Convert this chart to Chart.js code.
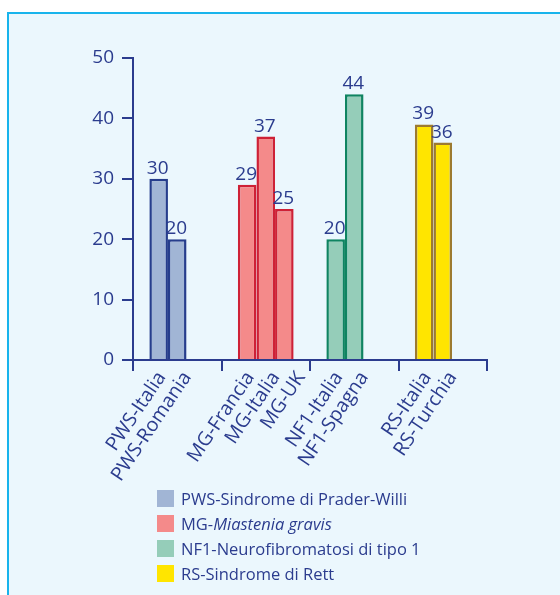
<!DOCTYPE html>
<html><head><meta charset="utf-8">
<script src="https://cdn.jsdelivr.net/npm/chart.js@4"></script>
<style>
html,body{margin:0;padding:0;background:#fff;width:560px;height:595px;overflow:hidden;}
#panel{position:absolute;left:7px;top:12px;width:600px;height:640px;background:#EBF7FD;border-left:2px solid #18B4EC;border-top:2px solid #18B4EC;}
#wrap{position:absolute;left:0;top:0;width:560px;height:595px;}
#legend{position:absolute;left:157px;top:490px;font-family:"Open Sans";font-weight:500;font-size:16.5px;color:#2B3C8E;}
.row{position:absolute;left:0;height:17px;line-height:17px;white-space:nowrap;}
.box{display:inline-block;width:17px;height:17px;vertical-align:top;margin-right:7px;}
</style></head>
<body>
<div id="panel"></div>
<div id="wrap"><canvas id="c" width="560" height="595"></canvas></div>
<div id="legend"></div>
<script>
const groups = ['PWS', 'MG', 'NF1', 'RS'];
const barLabels = [['PWS-Italia', 'PWS-Romania'], ['MG-Francia', 'MG-Italia', 'MG-UK'], ['NF1-Italia', 'NF1-Spagna'], ['RS-Italia', 'RS-Turchia']];
const firstBar = [30, 29, 20, 39];
const secondBar = [20, 37, 44, 36];
const thirdBar = [null, 25, null, null];
const yTicks = [0, 10, 20, 30, 40, 50];
const legendText = ['PWS-Sindrome di Prader-Willi', 'MG-', 'NF1-Neurofibromatosi di tipo 1', 'RS-Sindrome di Rett'];
const legendItalic = ['', 'Miastenia gravis', '', ''];

const fills = ['#A1B5D5', '#F48A8A', '#95CDB9', '#FFE500'];
const edges = ['#263D8C', '#CE2136', '#0F8461', '#9C7A30'];
const navy = '#2B3C8E';
const FONT = '500 19px "Open Sans"';
const XFONT = '500 19.5px "Open Sans"';

const legend = document.getElementById('legend');
legendText.forEach((t, i) => {
  const row = document.createElement('div');
  row.className = 'row';
  row.style.top = (25 * i) + 'px';
  const box = document.createElement('span');
  box.className = 'box';
  box.style.background = fills[i];
  row.appendChild(box);
  row.appendChild(document.createTextNode(t));
  if (legendItalic[i]) {
    const it = document.createElement('i');
    it.textContent = legendItalic[i];
    row.appendChild(it);
  }
  legend.appendChild(row);
});

const valueLabels = {
  id: 'valueLabels',
  afterDatasetsDraw(chart) {
    const c = chart.ctx;
    c.save();
    c.font = FONT;
    c.fillStyle = navy;
    c.textAlign = 'center';
    c.textBaseline = 'alphabetic';
    chart.data.datasets.forEach((ds, di) => {
      const meta = chart.getDatasetMeta(di);
      meta.data.forEach((bar, i) => {
        const v = ds.data[i];
        if (v == null) return;
        c.fillText(String(v), bar.x - 1, bar.y - 5);
      });
    });
    c.restore();
  }
};

const xLabels = {
  id: 'xLabels',
  afterDraw(chart) {
    const s = chart.scales.x;
    const c = chart.ctx;
    c.save();
    c.font = XFONT;
    c.fillStyle = navy;
    c.textAlign = 'right';
    c.textBaseline = 'alphabetic';
    barLabels.forEach((lines, i) => {
      const cx = s.getPixelForValue(i);
      lines.forEach((t, j) => {
        c.save();
        c.translate(cx - 11 + 25.5 * j, s.top + 17);
        c.rotate(-56 * Math.PI / 180);
        c.fillText(t, 0, 0);
        c.restore();
      });
    });
    c.restore();
  }
};

const mk = (data) => ({
  data, backgroundColor: fills, borderColor: edges, borderWidth: 2.5,
  borderSkipped: 'start', barPercentage: 1, categoryPercentage: 0.63
});

function draw() {
  new Chart(document.getElementById('c'), {
    type: 'bar',
    data: { labels: groups, datasets: [mk(firstBar), mk(secondBar), mk(thirdBar)] },
    options: {
      responsive: false,
      animation: false,
      layout: { padding: { left: 0, top: 58, right: 73, bottom: 0 } },
      plugins: { legend: { display: false }, tooltip: { enabled: false } },
      scales: {
        x: {
          z: 1,
          offset: true,
          grid: { display: true, offset: true, drawOnChartArea: false, drawTicks: true, tickLength: 11, color: navy, lineWidth: 2 },
          border: { display: true, color: navy, width: 2 },
          ticks: { display: false },
          afterFit(s) { s.height = 235; }
        },
        y: {
          min: 0, max: 50,
          afterBuildTicks(s) { s.ticks = yTicks.map(v => ({ value: v })); },
          ticks: { color: navy, font: { family: 'Open Sans', size: 19, weight: '500' }, padding: 8 },
          grid: { drawOnChartArea: false, tickLength: 11, color: navy, lineWidth: 2 },
          border: { display: true, color: navy, width: 2 },
          afterFit(s) { s.width = 133; }
        }
      }
    },
    plugins: [valueLabels, xLabels]
  });
}
document.fonts.load(FONT).then(draw, draw);
</script>
</body></html>
